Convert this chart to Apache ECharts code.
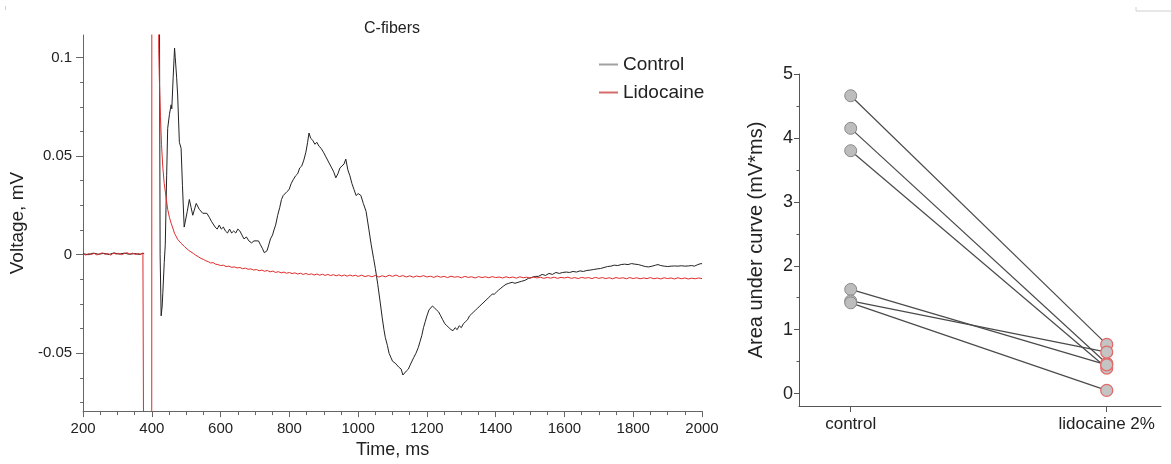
<!DOCTYPE html>
<html>
<head>
<meta charset="utf-8">
<script src="https://cdn.jsdelivr.net/npm/echarts@6/dist/echarts.min.js"></script>
<style>
  html, body { margin: 0; padding: 0; background: #fff; }
  #graph { width: 1171px; height: 464px; }
</style>
</head>
<body>
<div id="graph"></div>
<script>
// C-fibers compound action potential, [time ms, voltage mV]
// '-' marks where the trace is hidden behind the stimulus artefact
const controlTrace = [
  [200, 0.0005], [215, 0.0000], [230, 0.0008], [245, 0.0002], [260, 0.0007], [275, 0.0001],
  [290, 0.0009], [305, 0.0003], [320, 0.0008], [335, 0.0002], [350, 0.0006], [365, 0.0001],
  [375, 0.0008], [377.5, 0.0003], [400, '-'], [421, 0.2], [424, 0.0],
  [427, -0.031], [430, -0.026], [432, -0.019], [436, -0.004], [439, 0.005], [443, 0.040],
  [446, 0.064], [451, 0.071], [456, 0.076], [458, 0.074], [462, 0.090], [466, 0.1048],
  [468, 0.100], [472, 0.090], [475, 0.081], [480, 0.057], [485, 0.054], [489, 0.035],
  [494, 0.014], [498, 0.013], [503, 0.022], [509, 0.028], [514, 0.024], [519, 0.020],
  [524, 0.021], [529, 0.026], [533, 0.025], [538, 0.023], [543, 0.024], [548, 0.021],
  [553, 0.020], [560, 0.021], [567, 0.019], [573, 0.017], [578, 0.018], [584, 0.014],
  [590, 0.013], [596, 0.015], [602, 0.013], [608, 0.014], [614, 0.012], [620, 0.011],
  [626, 0.013], [632, 0.011], [638, 0.012], [644, 0.011], [650, 0.013], [656, 0.012],
  [662, 0.010], [668, 0.008], [675, 0.009], [682, 0.007], [690, 0.006], [697, 0.007],
  [702, 0.006], [710, 0.007], [716, 0.005], [722, 0.003], [727, 0.001], [731, 0.0015],
  [735, 0.002], [740, 0.005], [745, 0.008], [751, 0.010], [756, 0.013], [760, 0.015],
  [766, 0.020], [772, 0.024], [777, 0.028], [782, 0.030], [787, 0.029], [793, 0.032],
  [799, 0.033], [805, 0.036], [811, 0.038], [818, 0.040], [824, 0.041], [830, 0.044],
  [836, 0.045], [842, 0.048], [848, 0.052], [853, 0.057], [857, 0.0617], [862, 0.059],
  [868, 0.058], [874, 0.056], [880, 0.057], [886, 0.055], [892, 0.054], [899, 0.052],
  [905, 0.050], [911, 0.048], [917, 0.046], [923, 0.044], [929, 0.042], [935, 0.039],
  [941, 0.041], [947, 0.044], [953, 0.045], [959, 0.046], [964, 0.0485], [970, 0.043],
  [976, 0.040], [982, 0.036], [988, 0.033], [994, 0.030], [1000, 0.031], [1008, 0.030],
  [1015, 0.026], [1023, 0.022], [1031, 0.013], [1038, 0.005], [1045, -0.002], [1050, -0.007],
  [1057, -0.015], [1064, -0.024], [1070, -0.032], [1075, -0.038], [1079, -0.042], [1085, -0.046],
  [1090, -0.050], [1095, -0.052], [1100, -0.054], [1108, -0.055], [1118, -0.057], [1125, -0.058],
  [1130, -0.061], [1135, -0.062], [1140, -0.059], [1146, -0.058], [1151, -0.056], [1156, -0.055],
  [1162, -0.052], [1168, -0.050], [1175, -0.047], [1180, -0.044], [1185, -0.041], [1190, -0.037],
  [1195, -0.034], [1200, -0.031], [1206, -0.028], [1211, -0.027], [1216, -0.026], [1222, -0.027],
  [1228, -0.028], [1234, -0.029], [1240, -0.031], [1246, -0.033], [1252, -0.035], [1258, -0.036],
  [1264, -0.037], [1270, -0.038], [1276, -0.0385], [1282, -0.037], [1288, -0.038], [1294, -0.036],
  [1300, -0.037], [1306, -0.035], [1312, -0.034], [1318, -0.033], [1324, -0.031], [1330, -0.030],
  [1336, -0.029], [1342, -0.028], [1348, -0.027], [1354, -0.026], [1360, -0.025], [1366, -0.024],
  [1372, -0.023], [1378, -0.022], [1384, -0.021], [1390, -0.020], [1396, -0.020], [1402, -0.019],
  [1408, -0.018], [1415, -0.017], [1422, -0.016], [1430, -0.015], [1438, -0.0145], [1448, -0.014],
  [1456, -0.0145], [1465, -0.014], [1475, -0.0135], [1485, -0.013], [1495, -0.012], [1505, -0.0115],
  [1515, -0.011], [1524, -0.011], [1535, -0.010], [1545, -0.0105], [1555, -0.0095], [1565, -0.010],
  [1575, -0.009], [1585, -0.0095], [1595, -0.009], [1605, -0.0088], [1615, -0.009], [1625, -0.0085],
  [1635, -0.0088], [1645, -0.0082], [1655, -0.0085], [1665, -0.008], [1675, -0.0078], [1685, -0.0075],
  [1695, -0.0072], [1705, -0.007], [1715, -0.0065], [1725, -0.006], [1735, -0.0058], [1745, -0.0053],
  [1755, -0.0055], [1765, -0.005], [1775, -0.0048], [1785, -0.005], [1795, -0.0045], [1805, -0.0048],
  [1815, -0.005], [1825, -0.0055], [1835, -0.006], [1845, -0.0062], [1855, -0.0058], [1865, -0.0053],
  [1872, -0.005], [1880, -0.0055], [1890, -0.0058], [1900, -0.006], [1910, -0.0058], [1920, -0.0057],
  [1930, -0.0058], [1940, -0.0056], [1950, -0.0058], [1960, -0.0057], [1970, -0.0055], [1978, -0.0058],
  [1988, -0.005], [1997, -0.0045], [2000, -0.0046]
]

const lidocaineTrace = [
  [200, 0.0004], [208, -0.0002], [216, 0.0006], [224, 0.0001], [232, 0.0007], [240, -0.0001],
  [248, 0.0005], [256, 0.0009], [264, 0.0002], [272, 0.0006], [280, -0.0002], [288, 0.0008],
  [296, 0.0003], [304, 0.0007], [312, 0.0000], [320, 0.0006], [328, 0.0010], [336, 0.0003],
  [344, 0.0008], [352, 0.0001], [360, 0.0006], [368, 0.0002], [374, 0.0009], [377.5, 0.0003],
  [378, -0.2], [399.5, -0.2], [400, 0.2], [419, 0.2], [420, 0.104], [422, 0.088], [425, 0.07],
  [428, 0.056], [432, 0.044], [436, 0.036], [441, 0.0295], [446, 0.023], [451, 0.019],
  [456, 0.016], [461, 0.0135], [466, 0.0108], [470, 0.0095], [475, 0.0078], [480, 0.0068],
  [485, 0.0058], [490, 0.0048], [495, 0.0041], [500, 0.0033], [507, 0.0022], [514, 0.0014],
  [521, 0.0006], [528, -0.0003], [535, -0.0010], [543, -0.0019], [550, -0.0024], [557, -0.0031],
  [564, -0.0035], [571, -0.0042], [578, -0.0040], [585, -0.0048], [592, -0.0050], [600, -0.0055],
  [608, -0.0053], [616, -0.0060], [624, -0.0058], [632, -0.0064], [640, -0.0062], [648, -0.0067],
  [656, -0.0065], [664, -0.0071], [672, -0.0068], [680, -0.0074], [688, -0.0072], [696, -0.0078],
  [704, -0.0075], [712, -0.0081], [720, -0.0078], [728, -0.0084], [736, -0.0080], [744, -0.0087],
  [752, -0.0083], [760, -0.0090], [768, -0.0086], [776, -0.0092], [784, -0.0088], [792, -0.0094],
  [800, -0.0090], [808, -0.0096], [816, -0.0092], [824, -0.0098], [832, -0.0094], [840, -0.0100],
  [848, -0.0095], [856, -0.0101], [864, -0.0097], [872, -0.0103], [880, -0.0098], [888, -0.0104],
  [896, -0.0099], [904, -0.0105], [912, -0.0100], [920, -0.0106], [928, -0.0101], [936, -0.0107],
  [944, -0.0102], [952, -0.0108], [960, -0.0103], [968, -0.0109], [976, -0.0103], [984, -0.0108],
  [992, -0.0104], [1000, -0.0110], [1010, -0.0104], [1020, -0.0111], [1030, -0.0106], [1040, -0.0112],
  [1050, -0.0105], [1060, -0.0113], [1070, -0.0107], [1080, -0.0112], [1090, -0.0104], [1100, -0.0110],
  [1110, -0.0103], [1120, -0.0111], [1130, -0.0106], [1140, -0.0113], [1150, -0.0107], [1160, -0.0114],
  [1170, -0.0108], [1180, -0.0112], [1190, -0.0106], [1200, -0.0113], [1210, -0.0109], [1220, -0.0115],
  [1230, -0.0108], [1240, -0.0114], [1250, -0.0110], [1260, -0.0116], [1270, -0.0109], [1280, -0.0114],
  [1290, -0.0111], [1300, -0.0117], [1310, -0.0110], [1320, -0.0115], [1330, -0.0112], [1340, -0.0118],
  [1350, -0.0111], [1360, -0.0116], [1370, -0.0112], [1380, -0.0117], [1390, -0.0111], [1400, -0.0116],
  [1410, -0.0113], [1420, -0.0118], [1430, -0.0112], [1440, -0.0117], [1450, -0.0113], [1460, -0.0119],
  [1470, -0.0112], [1480, -0.0117], [1490, -0.0114], [1500, -0.0119], [1510, -0.0113], [1520, -0.0118],
  [1530, -0.0114], [1540, -0.0120], [1550, -0.0115], [1560, -0.0119], [1570, -0.0114], [1580, -0.0120],
  [1590, -0.0115], [1600, -0.0118], [1610, -0.0114], [1620, -0.0120], [1630, -0.0116], [1640, -0.0121],
  [1650, -0.0115], [1660, -0.0119], [1670, -0.0116], [1680, -0.0121], [1690, -0.0115], [1700, -0.0120],
  [1710, -0.0116], [1720, -0.0121], [1730, -0.0117], [1740, -0.0122], [1750, -0.0116], [1760, -0.0120],
  [1770, -0.0117], [1780, -0.0122], [1790, -0.0116], [1800, -0.0121], [1810, -0.0117], [1820, -0.0122],
  [1830, -0.0118], [1840, -0.0121], [1850, -0.0116], [1860, -0.0122], [1870, -0.0118], [1880, -0.0123],
  [1890, -0.0117], [1900, -0.0121], [1910, -0.0118], [1920, -0.0123], [1930, -0.0117], [1940, -0.0122],
  [1950, -0.0118], [1960, -0.0123], [1970, -0.0119], [1980, -0.0122], [1990, -0.0118], [2000, -0.0121]
]

const voltageTicks = [-0.05, 0, 0.05, 0.1]
const voltageMinorTicks = [-0.075, -0.0625, -0.0375, -0.025, -0.0125, 0.0125, 0.025, 0.0375, 0.0625, 0.075, 0.0875]

// area under curve, paired per preparation
const groups = ['control', 'lidocaine 2%']
const aucControl = [4.66, 4.15, 3.80, 1.63, 1.45, 1.42]
const aucLidocaine = [0.77, 0.47, 0.40, 0.45, 0.65, 0.05]
const aucTicks = [0, 1, 2, 3, 4, 5]
const aucMinorTicks = [0.5, 1.5, 2.5, 3.5, 4.5]

const chart = echarts.init(document.getElementById('graph'))
const font = 'Liberation Sans, Arial, sans-serif'
const axisGray = '#666'

const pairSeries = aucControl.map((c, i) => ({
  type: 'line',
  xAxisIndex: 1,
  yAxisIndex: 2,
  symbol: 'none',
  silent: true,
  lineStyle: { color: '#4a4a4a', width: 1.2 },
  data: [[0, c], [1, aucLidocaine[i]]],
  z: 2
}))

const option = {
  animation: false,
  title: {
    text: 'C-fibers',
    left: 359,
    top: 16,
    textStyle: { fontFamily: font, fontSize: 16, fontWeight: 'normal', color: '#222' }
  },
  legend: {
    orient: 'vertical',
    left: 594,
    top: 50,
    itemGap: 9,
    itemWidth: 19,
    itemHeight: 2,
    icon: 'rect',
    textStyle: { fontFamily: font, fontSize: 19, color: '#222' },
    data: [
      { name: 'Control', itemStyle: { color: '#a0a0a0' } },
      { name: 'Lidocaine', itemStyle: { color: '#d46a6a' } }
    ]
  },
  grid: [
    { left: 80, top: 35, width: 622, height: 384 },
    { left: 799, top: 74, width: 362, height: 332 }
  ],
  xAxis: [
    {
      gridIndex: 0,
      type: 'value',
      min: 200,
      max: 2000,
      interval: 200,
      name: 'Time, ms',
      nameLocation: 'middle',
      nameGap: 29,
      nameTextStyle: { fontFamily: font, fontSize: 18, color: '#222' },
      axisLine: { onZero: false, lineStyle: { color: axisGray } },
      axisTick: { length: 6, lineStyle: { color: axisGray } },
      minorTick: { show: true, splitNumber: 4, length: 4, lineStyle: { color: axisGray } },
      axisLabel: { formatter: v => String(v), fontFamily: font, fontSize: 15, color: '#222', margin: 10 },
      splitLine: { show: false }
    },
    {
      gridIndex: 1,
      type: 'value',
      min: -0.202,
      max: 1.212,
      axisLine: { onZero: false, lineStyle: { color: '#555' } },
      axisTick: { length: 6, customValues: [0, 1], lineStyle: { color: '#555' } },
      axisLabel: {
        customValues: [0, 1],
        formatter: v => groups[Math.round(v)],
        fontFamily: font,
        fontSize: 17,
        color: '#222',
        margin: 10
      },
      splitLine: { show: false }
    }
  ],
  yAxis: [
    {
      gridIndex: 0,
      type: 'value',
      min: -0.0793,
      max: 0.1114,
      name: 'Voltage, mV',
      nameLocation: 'middle',
      nameGap: 52,
      nameTextStyle: { fontFamily: font, fontSize: 19, color: '#222' },
      axisLine: { show: true, onZero: false, lineStyle: { color: axisGray } },
      axisTick: { show: true, length: 7, customValues: voltageTicks, lineStyle: { color: axisGray } },
      axisLabel: { customValues: voltageTicks, fontFamily: font, fontSize: 15, color: '#222', margin: 11 },
      splitLine: { show: false }
    },
    {
      // minor ticks only
      gridIndex: 0,
      type: 'value',
      position: 'left',
      min: -0.0793,
      max: 0.1114,
      axisLine: { show: false, onZero: false },
      axisTick: { show: true, length: 3, customValues: voltageMinorTicks, lineStyle: { color: axisGray } },
      axisLabel: { show: false },
      splitLine: { show: false }
    },
    {
      gridIndex: 1,
      type: 'value',
      min: -0.194,
      max: 5,
      name: 'Area under curve (mV*ms)',
      nameLocation: 'middle',
      nameGap: 33,
      nameTextStyle: { fontFamily: font, fontSize: 20, color: '#222' },
      axisLine: { show: true, onZero: false, lineStyle: { color: '#555' } },
      axisTick: { show: true, length: 5, customValues: aucTicks, lineStyle: { color: '#555' } },
      axisLabel: { customValues: aucTicks, fontFamily: font, fontSize: 18, color: '#222', margin: 6 },
      splitLine: { show: false }
    },
    {
      gridIndex: 1,
      type: 'value',
      position: 'left',
      min: -0.194,
      max: 5,
      axisLine: { show: false, onZero: false },
      axisTick: { show: true, length: 2.5, customValues: aucMinorTicks, lineStyle: { color: '#555' } },
      axisLabel: { show: false },
      splitLine: { show: false }
    }
  ],
  series: [
    {
      name: 'Control',
      type: 'line',
      xAxisIndex: 0,
      yAxisIndex: 0,
      showSymbol: false,
      color: '#222',
      lineStyle: { color: '#222', width: 1 },
      data: controlTrace
    },
    {
      name: 'Lidocaine',
      type: 'line',
      xAxisIndex: 0,
      yAxisIndex: 0,
      showSymbol: false,
      color: '#e02b2b',
      lineStyle: { color: '#e02b2b', width: 1 },
      data: lidocaineTrace
    },
    ...pairSeries,
    {
      type: 'scatter',
      xAxisIndex: 1,
      yAxisIndex: 2,
      symbolSize: 12,
      itemStyle: { color: '#bdbdbd', borderColor: '#888', borderWidth: 1, opacity: 1 },
      data: aucControl.map(v => [0, v]),
      z: 3
    },
    {
      type: 'scatter',
      xAxisIndex: 1,
      yAxisIndex: 2,
      symbolSize: 12,
      itemStyle: { color: '#c4c4c4', borderColor: '#e46a6a', borderWidth: 1.3, opacity: 1 },
      data: aucLidocaine.map(v => [1, v]),
      z: 3
    }
  ],
  graphic: [
    { type: 'polyline', shape: { points: [[1136, 7], [1136, 11], [1171, 11]] }, style: { stroke: '#d0d0d0', lineWidth: 1, fill: null } },
    { type: 'line', shape: { x1: 5.5, y1: 6, x2: 5.5, y2: 10 }, style: { stroke: '#ccc', lineWidth: 1 } }
  ]
}

chart.setOption(option)
</script>
</body>
</html>
